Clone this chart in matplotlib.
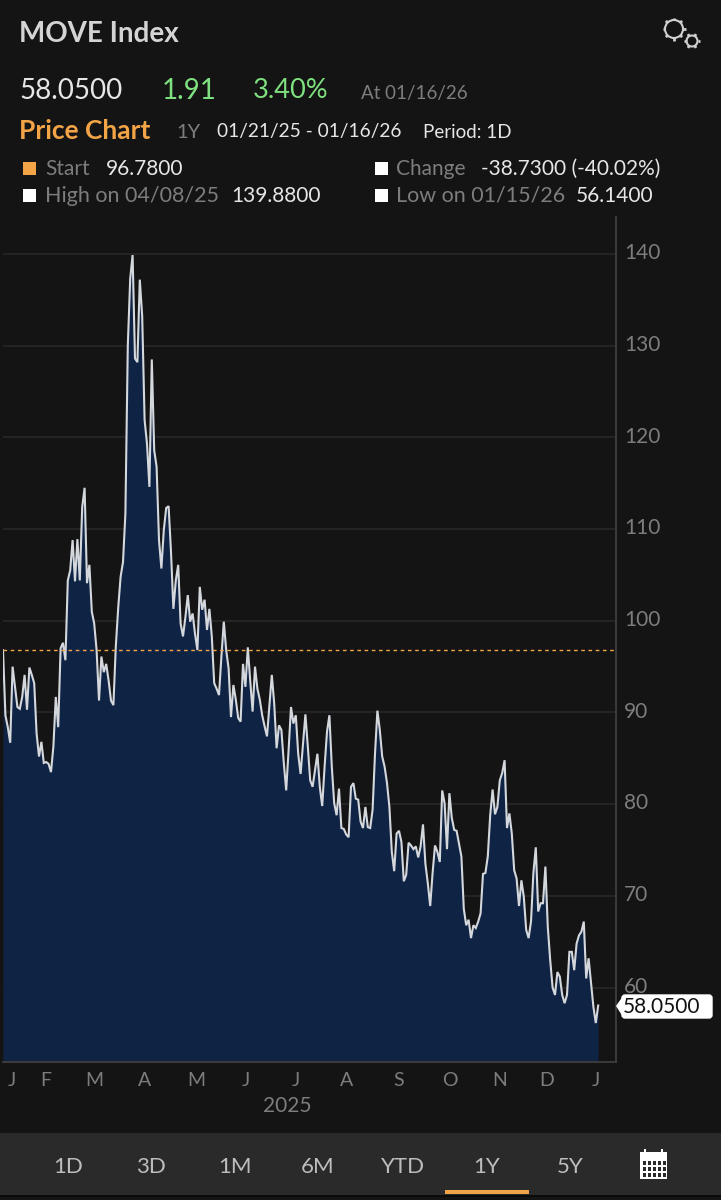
"""MOVE Index price chart, dark terminal style."""

import numpy as np
import matplotlib
matplotlib.use("Agg")
import matplotlib.pyplot as plt
from matplotlib.patches import Circle, FancyBboxPatch, Polygon, Rectangle
from matplotlib.transforms import ScaledTranslation

plt.rcParams["font.family"] = ["Lato", "DejaVu Sans"]

values = [
    96.8, 89.7, 88.4, 86.7, 95.0, 92.8, 90.6, 90.4, 91.7, 94.1,
    90.3, 94.9, 94.1, 93.2, 87.7, 85.2, 86.8, 84.5, 84.6, 84.4,
    83.5, 86.3, 91.7, 88.4, 97.0, 97.6, 95.7, 104.4, 105.5, 108.8,
    104.3, 108.9, 104.4, 112.4, 114.5, 104.1, 106.1, 101.0, 99.7, 96.8,
    91.3, 96.1, 94.4, 95.3, 93.5, 91.3, 90.8, 97.2, 101.4, 104.8,
    106.4, 111.7, 130.0, 137.3, 139.88, 128.6, 128.2, 137.2, 133.2, 121.9,
    119.3, 114.6, 128.5, 118.6, 116.8, 108.8, 105.7, 109.9, 112.3, 112.5,
    107.5, 101.3, 104.4, 106.1, 99.7, 98.3, 100.4, 102.8, 99.9, 100.8,
    98.6, 96.8, 103.7, 101.2, 102.3, 99.0, 101.3, 98.3, 93.2, 92.6,
    91.9, 96.1, 99.9, 96.8, 94.8, 89.5, 93.0, 91.4, 89.4, 89.0,
    95.3, 92.8, 97.1, 93.5, 90.1, 95.0, 92.6, 91.4, 89.7, 88.5,
    87.4, 90.8, 94.1, 91.0, 86.1, 88.6, 88.1, 84.5, 81.5, 85.9,
    90.6, 88.8, 89.7, 85.5, 83.3, 86.6, 89.8, 86.3, 82.6, 81.9,
    83.7, 85.5, 81.9, 79.8, 84.1, 87.9, 89.7, 84.1, 80.1, 78.8,
    81.7, 77.4, 77.3, 76.7, 76.4, 81.9, 82.3, 80.6, 80.5, 78.1,
    77.4, 79.7, 77.5, 77.4, 79.4, 85.5, 90.2, 88.1, 85.2, 84.1,
    82.3, 79.7, 74.8, 72.7, 76.8, 77.1, 75.9, 71.6, 72.3, 75.8,
    75.5, 75.1, 75.4, 74.2, 75.4, 77.8, 73.5, 71.4, 68.9, 72.5,
    75.5, 74.8, 73.7, 81.5, 80.1, 75.1, 81.2, 78.5, 77.2, 77.1,
    75.7, 74.3, 68.6, 66.8, 67.4, 65.4, 66.8, 66.5, 67.2, 68.1,
    72.4, 72.5, 74.3, 78.8, 81.6, 78.9, 79.7, 82.6, 83.4, 84.8,
    77.4, 79.0, 76.8, 72.8, 71.9, 68.9, 71.7, 69.9, 66.3, 65.4,
    67.2, 72.5, 75.3, 68.3, 69.2, 69.2, 73.2, 66.6, 63.0, 60.0,
    59.2, 61.7, 61.2, 59.2, 58.3, 59.2, 63.9, 63.9, 61.9, 64.8,
    65.7, 66.1, 67.2, 61.0, 63.2, 60.5, 57.9, 56.14, 58.05,
]
start_value = 96.78
y_ticks = [60, 70, 80, 90, 100, 110, 120, 130, 140]
month_pos = [3.75, 18, 38, 59, 80.5, 101, 122, 143, 165, 186, 207, 226.6, 247]
month_labels = ["J", "F", "M", "A", "M", "J", "J", "A", "S", "O", "N", "D", "J"]
ranges = ["1D", "3D", "1M", "6M", "YTD", "1Y", "5Y"]
range_x = [68, 151, 235, 318, 403, 487, 570]

BG = "#141414"
BAR = "#2a2a2a"
GRID = "#282828"
GREY = "#7d7d7d"
LIGHT = "#e6e6e6"
ORANGE = "#f2a446"
GREEN = "#7fe07f"

W, H = 721, 1200
fig = plt.figure(figsize=(W / 100, H / 100), dpi=100, facecolor=BG)

# chart area, placed in pixels
ax = fig.add_axes([3 / W, 1 - 1062 / H, 613 / W, 845 / H], facecolor=BG)
x = np.arange(len(values))
ax.fill_between(x, values, 40, color="#0f2344", lw=0, zorder=2)
ax.plot(x, values, color="#d4d8dd", lw=1.5, zorder=3, solid_joinstyle="miter")
ax.axhline(start_value, color=ORANGE, lw=1.0, dashes=(2.6, 2.6), zorder=4)
ax.set_xlim(0, 613 / 2.4)
ax.set_ylim(51.89, 144.03)
ax.set_yticks(y_ticks)
ax.set_xticks(month_pos)
ax.set_xticklabels(month_labels)
ax.yaxis.tick_right()
ax.grid(axis="y", color=GRID, lw=1.2, zorder=1)
ax.tick_params(axis="y", length=0, pad=6, labelcolor=GREY, labelsize=15)
ax.tick_params(axis="x", length=0, pad=7, labelcolor=GREY, labelsize=14)
up = ScaledTranslation(0, 2 / 72, fig.dpi_scale_trans)
for t in ax.get_yticklabels():
    t.set_transform(t.get_transform() + up)
for s in ["top", "left"]:
    ax.spines[s].set_visible(False)
for s in ["right", "bottom"]:
    ax.spines[s].set_color("#3c3c3c")
    ax.spines[s].set_linewidth(1.4)

# overlay for header, toolbar and icons, in pixel coordinates
ov = fig.add_axes([0, 0, 1, 1], facecolor="none")
ov.set_xlim(0, W)
ov.set_ylim(H, 0)
ov.axis("off")


def label(px, py, s, color=LIGHT, size=14, **kw):
    ov.text(px, py, s, color=color, fontsize=size, va="center", **kw)


def square(px, py, color="white"):
    ov.add_patch(Rectangle((px, py), 13, 13, color=color, lw=0))


def gear(cx, cy, r, teeth=8):
    ov.add_patch(Circle((cx, cy), r, fill=False, ec="#d0d0d0", lw=1.5))
    for a in np.linspace(0, 2 * np.pi, teeth, endpoint=False):
        ov.plot([cx + r * np.cos(a), cx + (r + 2.5) * np.cos(a)],
                [cy + r * np.sin(a), cy + (r + 2.5) * np.sin(a)],
                color="#d0d0d0", lw=2, solid_capstyle="butt")


label(19, 34, "MOVE Index", size=20, fontweight="bold", alpha=0.92)
gear(674, 29, 9)
gear(692, 41, 5.5, teeth=6)

label(19, 91, "58.0500", size=20)
label(162, 91, "1.91", color=GREEN, size=20)
label(253, 91, "3.40%", color=GREEN, size=19.5)
label(361, 94, "At 01/16/26", color=GREY, size=13.5)

label(19, 131, "Price Chart", color=ORANGE, size=19, fontweight="bold")
label(176, 132, "1Y", color=GREY, size=14.5)
label(217, 132, "01/21/25 - 01/16/26", size=13.8)
label(423, 132, "Period: 1D", size=13.5)

square(23, 162, ORANGE)
label(45, 169, "Start", color=GREY, size=15)
label(106, 169, "96.7800", size=15)
square(375, 162)
label(396, 169, "Change", color=GREY, size=15)
label(481, 169, "-38.7300 (-40.02%)", size=15)
square(23, 189)
label(45, 196, "High on 04/08/25", color=GREY, size=15.5)
label(231, 196, "139.8800", size=15)
square(375, 189)
label(396, 196, "Low on 01/15/26", color=GREY, size=15.5)
label(576, 196, "56.1400", size=15)

# last price flag
ov.add_patch(FancyBboxPatch((622, 995), 90, 23, boxstyle="round,pad=0,rounding_size=3",
                            fc="white", ec="white", lw=1, zorder=5))
ov.add_patch(Polygon([(616, 1006), (623, 996), (623, 1017)], fc="white", ec="none", zorder=5))
ov.text(623, 1007, "58.0500", color="#111111", fontsize=15, va="center", zorder=6)

label(287, 1106, "2025", color=GREY, size=15, ha="center")

# range toolbar
ov.add_patch(Rectangle((0, 1133), W, 62, color=BAR, lw=0))
ov.add_patch(Rectangle((0, 1195), W, 1.5, color="#0a0a0a", lw=0))
for rx, r in zip(range_x, ranges):
    label(rx, 1167, r, color="#bdbdbd", size=16, ha="center")
ov.add_patch(Rectangle((445, 1190), 84, 3.5, color=ORANGE, lw=0))

# calendar icon
ov.add_patch(Rectangle((640, 1152), 27, 27, fc="white", ec="none"))
for cx in [645, 662]:
    ov.add_patch(Rectangle((cx - 1, 1149), 2, 4, fc="white", ec="none"))
for cy in [1161, 1167, 1173]:
    for cx in [643, 648, 653, 658, 663]:
        ov.add_patch(Rectangle((cx - 0.5, cy - 0.5), 3.8, 4, fc=BAR, ec="none"))

fig.savefig("out.png", dpi=100, facecolor=BG)
